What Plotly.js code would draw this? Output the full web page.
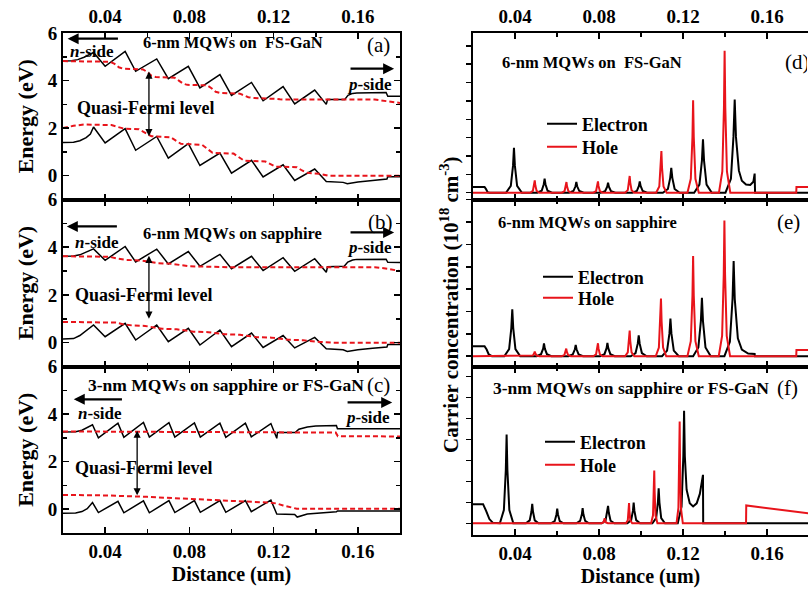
<!DOCTYPE html>
<html>
<head>
<meta charset="utf-8">
<script src="https://cdn.plot.ly/plotly-3.0.1.min.js"></script>
<style>html,body{margin:0;padding:0;background:#fff}#plot{width:808px;height:591px}</style>
</head>
<body>
<div id="plot"></div>
<script>
// ---------- Panel (a): 6-nm MQWs on FS-GaN ----------
const aCBx = [0.02,0.024,0.027,0.030,0.0345,0.040,0.0495,0.0545,0.0645,0.070,0.0795,0.085,0.0945,0.100,0.1095,0.115,0.1245,0.130,0.1395,0.145,0.1456,0.1537,0.1553,0.1575,0.1595,0.1734,0.1742,0.18];
const aCBy = [4.82,4.83,4.88,4.98,5.18,4.6,5.23,4.39,4.91,4.08,4.6,3.69,4.25,3.38,3.92,3.15,3.75,3.02,3.6,3.0,3.2,3.2,3.38,3.46,3.48,3.5,3.34,3.34];
const aVBx = [0.02,0.025,0.028,0.031,0.033,0.0345,0.040,0.0495,0.0545,0.0645,0.070,0.0795,0.085,0.0945,0.100,0.1095,0.115,0.1245,0.130,0.1395,0.145,0.153,0.155,0.160,0.167,0.1738,0.1742,0.18];
const aVBy = [1.4,1.41,1.47,1.6,1.75,2.05,1.38,1.98,1.07,1.65,0.74,1.35,0.43,0.95,0.11,0.65,-0.05,0.46,-0.2,0.28,-0.24,-0.28,-0.34,-0.26,-0.2,-0.14,-0.04,-0.04];
const aFnx = [0.02,0.0425,0.0445,0.0465,0.0485,0.058,0.060,0.062,0.064,0.073,0.075,0.077,0.079,0.0885,0.0905,0.0925,0.0945,0.104,0.106,0.108,0.110,0.119,0.121,0.123,0.125,0.168,0.174,0.18];
const aFny = [4.82,4.79,4.7,4.56,4.5,4.47,4.36,4.2,4.15,4.12,4.0,3.87,3.82,3.8,3.68,3.53,3.48,3.45,3.37,3.3,3.27,3.26,3.23,3.21,3.2,3.2,3.14,3.06];
const aFpx = [0.02,0.025,0.03,0.043,0.046,0.049,0.056,0.059,0.062,0.071,0.0735,0.076,0.086,0.0885,0.091,0.101,0.1035,0.106,0.116,0.1185,0.121,0.131,0.1335,0.136,0.142,0.146,0.18];
const aFpy = [2.0,2.1,2.15,2.13,2.05,1.98,1.95,1.8,1.66,1.62,1.47,1.34,1.3,1.12,0.96,0.93,0.78,0.63,0.6,0.48,0.38,0.36,0.22,0.12,0.08,0.0,0.0];

// ---------- Panel (b): 6-nm MQWs on sapphire ----------
const bCBx = [0.02,0.025,0.028,0.031,0.0345,0.040,0.0495,0.0545,0.0645,0.070,0.0795,0.085,0.0945,0.100,0.1095,0.115,0.1245,0.130,0.1395,0.145,0.1456,0.1535,0.1552,0.1575,0.1595,0.1734,0.1742,0.18];
const bCBy = [3.62,3.63,3.68,3.78,3.93,3.45,4.03,3.38,3.92,3.3,3.82,3.2,3.7,3.1,3.62,3.02,3.56,2.99,3.52,2.95,3.18,3.2,3.38,3.46,3.49,3.5,3.37,3.36];
const bVBx = [0.02,0.025,0.028,0.031,0.0345,0.040,0.0495,0.0545,0.0645,0.070,0.0795,0.085,0.0945,0.100,0.1095,0.115,0.1245,0.130,0.1395,0.145,0.153,0.155,0.160,0.167,0.1738,0.1742,0.18];
const bVBy = [0.15,0.17,0.3,0.5,0.74,0.25,0.81,0.11,0.74,0.04,0.6,-0.1,0.53,-0.17,0.4,-0.2,0.3,-0.22,0.22,-0.26,-0.3,-0.37,-0.3,-0.24,-0.18,-0.08,-0.08];
const bFnx = [0.02,0.042,0.046,0.050,0.057,0.061,0.065,0.072,0.076,0.080,0.09,0.1,0.168,0.174,0.18];
const bFny = [3.62,3.6,3.52,3.47,3.44,3.38,3.33,3.3,3.24,3.2,3.18,3.16,3.16,3.1,3.0];
const bFpx = [0.02,0.045,0.049,0.053,0.059,0.063,0.067,0.074,0.078,0.082,0.089,0.093,0.097,0.104,0.108,0.112,0.119,0.123,0.127,0.134,0.138,0.142,0.148,0.18];
const bFpy = [0.87,0.84,0.76,0.72,0.7,0.63,0.58,0.56,0.5,0.46,0.44,0.39,0.35,0.33,0.27,0.23,0.21,0.16,0.12,0.1,0.06,0.03,0.0,0.0];

// ---------- Panel (c): 3-nm MQWs on sapphire or FS-GaN ----------
const cCBx = [0.02,0.026,0.029,0.0315,0.034,0.0368,0.0461,0.0489,0.0582,0.061,0.0703,0.0731,0.0824,0.0852,0.0945,0.0973,0.1066,0.1094,0.1187,0.1215,0.1218,0.1302,0.132,0.136,0.140,0.1498,0.1503,0.18];
const cCBy = [3.25,3.26,3.32,3.42,3.55,3.0,3.62,3.02,3.65,3.03,3.64,3.03,3.63,3.03,3.62,3.02,3.62,3.04,3.6,2.98,3.22,3.22,3.36,3.46,3.5,3.52,3.38,3.38];
const cVBx = [0.02,0.026,0.029,0.0315,0.034,0.0368,0.0461,0.0489,0.0582,0.061,0.0703,0.0731,0.0824,0.0852,0.0945,0.0973,0.1066,0.1094,0.1187,0.1215,0.130,0.1312,0.136,0.145,0.1498,0.1503,0.18];
const cVBy = [-0.17,-0.16,-0.1,0.02,0.28,-0.14,0.33,-0.15,0.35,-0.15,0.36,-0.14,0.36,-0.13,0.36,-0.13,0.36,-0.1,0.38,-0.2,-0.22,-0.33,-0.2,-0.14,-0.11,-0.07,-0.07];
const cFnx = [0.02,0.08,0.12,0.1495,0.1505,0.18];
const cFny = [3.27,3.25,3.22,3.22,3.07,3.06];
const cFpx = [0.02,0.04,0.06,0.08,0.10,0.118,0.1215,0.1245,0.128,0.131,0.18];
const cFpy = [0.6,0.58,0.52,0.45,0.35,0.28,0.24,0.16,0.07,0.02,0.02];

// ---------- Panel (d): carriers, 6-nm MQWs on FS-GaN ----------
const dElectron = [[0.02,0.31],[0.0255,0.31],[0.0262,0.2],[0.027,0.02],[0.028,0],
 [0.0357,0],[0.0380,0.37],[0.03905,1.46],[0.0395,2.44],[0.03995,1.46],[0.0410,0.37],[0.0433,0],
 [0.0506,0],[0.0527,0.11],[0.0537,0.46],[0.0541,0.76],[0.0545,0.46],[0.0555,0.11],[0.0576,0],
 [0.0657,0],[0.0678,0.09],[0.0688,0.35],[0.0692,0.58],[0.0696,0.35],[0.0706,0.09],[0.0727,0],
 [0.0808,0],[0.0829,0.08],[0.0839,0.33],[0.0843,0.55],[0.0847,0.33],[0.0857,0.08],[0.0878,0],
 [0.0959,0],[0.098,0.09],[0.099,0.37],[0.0994,0.62],[0.0998,0.37],[0.1008,0.09],[0.1029,0],
 [0.1104,0],[0.1128,0.2],[0.1139,0.81],[0.1144,1.35],[0.1149,0.81],[0.116,0.2],[0.1184,0],
 [0.1253,0],[0.1278,0.44],[0.129,1.75],[0.1295,2.91],[0.13,1.75],[0.1312,0.44],[0.1337,0],
 [0.1402,0],[0.1428,0.76],[0.144,3.04],[0.1446,5.07],[0.1452,3.04],[0.1466,1.2],[0.148,0.65],[0.150,0.45],[0.152,0.42],[0.1535,0.6],[0.1541,1.04],[0.1543,0],[0.18,0]];
const dHole = [[0.02,0],
 [0.0472,0],[0.0485,0.1],[0.04914,0.4],[0.0494,0.67],[0.04966,0.4],[0.0503,0.1],[0.0516,0],
 [0.0623,0],[0.0636,0.09],[0.06424,0.35],[0.0645,0.58],[0.06476,0.35],[0.0654,0.09],[0.0667,0],
 [0.0773,0],[0.0786,0.09],[0.07924,0.37],[0.0795,0.62],[0.07976,0.37],[0.0804,0.09],[0.0817,0],
 [0.0924,0],[0.0937,0.14],[0.09434,0.55],[0.0946,0.91],[0.09486,0.55],[0.0955,0.14],[0.0968,0],
 [0.1072,0],[0.1087,0.34],[0.1094,1.36],[0.1097,2.27],[0.11,1.36],[0.1107,0.34],[0.1122,0],
 [0.1221,0],[0.1237,0.76],[0.12448,3.02],[0.1248,5.04],[0.12512,3.02],[0.1259,0.76],[0.1275,0],
 [0.1371,0],[0.1387,1.16],[0.13948,4.64],[0.1398,7.73],[0.14012,4.64],[0.1409,1.16],[0.1425,0],
 [0.1739,0],[0.174,0.31],[0.18,0.31]];

// ---------- Panel (e): carriers, 6-nm MQWs on sapphire ----------
const eElectron = [[0.02,0.45],[0.0255,0.45],[0.0265,0.3],[0.0275,0.08],[0.029,0],
 [0.0349,0],[0.0372,0.32],[0.03824,1.26],[0.0387,2.10],[0.03916,1.26],[0.0402,0.32],[0.0425,0],
 [0.0503,0],[0.0524,0.09],[0.0534,0.34],[0.0538,0.57],[0.0542,0.34],[0.0552,0.09],[0.0573,0],
 [0.0654,0],[0.0675,0.08],[0.0685,0.31],[0.0689,0.51],[0.0693,0.31],[0.0703,0.08],[0.0724,0],
 [0.0805,0],[0.0826,0.09],[0.0836,0.36],[0.084,0.6],[0.0844,0.36],[0.0854,0.09],[0.0875,0],
 [0.0951,0],[0.0974,0.14],[0.09844,0.56],[0.0989,0.93],[0.09936,0.56],[0.1004,0.14],[0.1027,0],
 [0.11,0],[0.1124,0.25],[0.11352,1.01],[0.114,1.68],[0.11448,1.01],[0.1156,0.25],[0.118,0],
 [0.1248,0],[0.1273,0.39],[0.1285,1.57],[0.129,2.61],[0.1295,1.57],[0.1307,0.39],[0.1332,0],
 [0.1397,0],[0.1423,0.64],[0.14357,2.56],[0.1441,4.26],[0.14463,2.56],[0.1461,0.8],[0.148,0.3],[0.151,0.12],[0.1541,0.1],[0.1542,0],[0.18,0]];
const eHole = [[0.02,0],
 [0.0472,0],[0.0485,0.03],[0.04914,0.13],[0.0494,0.21],[0.04966,0.13],[0.0503,0.03],[0.0516,0],
 [0.0622,0],[0.0635,0.05],[0.06414,0.2],[0.0644,0.34],[0.06466,0.2],[0.0653,0.05],[0.0666,0],
 [0.0773,0],[0.0786,0.09],[0.07924,0.35],[0.0795,0.58],[0.07976,0.35],[0.0804,0.09],[0.0817,0],
 [0.0924,0],[0.0937,0.17],[0.09434,0.69],[0.0946,1.15],[0.09486,0.69],[0.0955,0.17],[0.0968,0],
 [0.107,0],[0.1085,0.39],[0.1092,1.55],[0.1095,2.58],[0.1098,1.55],[0.1105,0.39],[0.112,0],
 [0.1221,0],[0.1237,0.67],[0.12448,2.69],[0.1248,4.48],[0.12512,2.69],[0.1259,0.67],[0.1275,0],
 [0.137,0],[0.1386,0.91],[0.13938,3.64],[0.1397,6.07],[0.14002,3.64],[0.1408,0.91],[0.1424,0],
 [0.1739,0],[0.174,0.28],[0.18,0.28]];

// ---------- Panel (f): carriers, 3-nm MQWs ----------
const fElectron = [[0.02,0.91],[0.0248,0.91],[0.0262,0.6],[0.0278,0.2],[0.0295,0.02],[0.031,0],
 [0.0328,0],[0.0347,0.63],[0.03562,2.54],[0.036,4.23],[0.03638,2.54],[0.0373,0.63],[0.0392,0],
 [0.0452,0],[0.047,0.14],[0.04784,0.56],[0.0482,0.93],[0.04856,0.56],[0.0494,0.14],[0.0512,0],
 [0.0571,0],[0.0589,0.1],[0.05974,0.42],[0.0601,0.7],[0.06046,0.42],[0.0613,0.1],[0.0631,0],
 [0.0692,0],[0.071,0.11],[0.07184,0.43],[0.0722,0.72],[0.07256,0.43],[0.0734,0.11],[0.0752,0],
 [0.0813,0],[0.0831,0.12],[0.08394,0.5],[0.0843,0.83],[0.08466,0.5],[0.0855,0.12],[0.0873,0],
 [0.0935,0],[0.0953,0.15],[0.09614,0.59],[0.0965,0.99],[0.09686,0.59],[0.0977,0.15],[0.0995,0],
 [0.1054,0],[0.1072,0.25],[0.10804,1.0],[0.1084,1.67],[0.10876,1.0],[0.1096,0.25],[0.1114,0],
 [0.1175,0],[0.1193,0.8],[0.12014,3.2],[0.1205,5.37],[0.12086,3.2],[0.1217,1.6],[0.1232,0.95],[0.1248,0.8],[0.1265,0.95],[0.128,1.4],[0.1292,2.0],[0.1295,2.31],[0.1296,0],[0.18,0]];
const fHole = [[0.02,0],
 [0.0812,0],[0.0821,0.04],[0.08245,0.14],[0.0827,0.24],[0.08295,0.14],[0.0833,0.04],[0.0842,0],
 [0.0928,0],[0.0937,0.14],[0.09412,0.58],[0.0943,0.96],[0.09448,0.58],[0.0949,0.14],[0.0958,0],
 [0.1048,0],[0.1057,0.38],[0.10612,1.51],[0.1063,2.52],[0.10648,1.51],[0.1069,0.38],[0.1078,0],
 [0.1169,0],[0.1178,0.73],[0.11822,2.92],[0.1184,4.86],[0.11858,2.92],[0.119,0.73],[0.1199,0],
 [0.15,0],[0.1501,0.85],[0.18,0.47]];

const xTickVals = [0.04,0.08,0.12,0.16];
const xTickText = ['0.04','0.08','0.12','0.16'];
const eTickVals = [0,2,4,6];
const eTickText = ['0','2','4','6'];
const panelLetters = ['(a)','(b)','(c)','(d)','(e)','(f)'];
const panelTitles = ['6-nm MQWs on\u00a0 FS-GaN','6-nm MQWs on sapphire','3-nm MQWs on sapphire or FS-GaN'];
const seriesNames = ['Electron','Hole'];

const FONT = 'Liberation Serif';
const RED = '#e8141b';
const px = p => p.map(v => v[0]);
const py = p => p.map(v => v[1]);

const traces = [];
function band(x, y, ax, ay) {
  traces.push({x, y, xaxis: ax, yaxis: ay, mode: 'lines', line: {color: '#000', width: 1.5}, showlegend: false, hoverinfo: 'skip'});
}
function fermi(x, y, ax, ay) {
  traces.push({x, y, xaxis: ax, yaxis: ay, mode: 'lines', line: {color: RED, width: 2, dash: '5px,3px'}, showlegend: false, hoverinfo: 'skip'});
}
band(aCBx, aCBy, 'x', 'y'); band(aVBx, aVBy, 'x', 'y'); fermi(aFnx, aFny, 'x', 'y'); fermi(aFpx, aFpy, 'x', 'y');
band(bCBx, bCBy, 'x2', 'y2'); band(bVBx, bVBy, 'x2', 'y2'); fermi(bFnx, bFny, 'x2', 'y2'); fermi(bFpx, bFpy, 'x2', 'y2');
band(cCBx, cCBy, 'x3', 'y3'); band(cVBx, cVBy, 'x3', 'y3'); fermi(cFnx, cFny, 'x3', 'y3'); fermi(cFpx, cFpy, 'x3', 'y3');

function carriers(el, ho, ax, ay, legE, legH) {
  traces.push({x: px(el), y: py(el), xaxis: ax, yaxis: ay, mode: 'lines', name: seriesNames[0], legend: legE, line: {color: '#000', width: 2}, hoverinfo: 'skip'});
  traces.push({x: px(ho), y: py(ho), xaxis: ax, yaxis: ay, mode: 'lines', name: seriesNames[1], legend: legH, line: {color: RED, width: 2}, hoverinfo: 'skip'});
}
carriers(dElectron, dHole, 'x4', 'y4', 'legend', 'legend2');
carriers(eElectron, eHole, 'x5', 'y5', 'legend3', 'legend4');
carriers(fElectron, fHole, 'x6', 'y6', 'legend5', 'legend6');

const W = 808, H = 591;
const LX = [63/W, 400/W];
const RX = [473/W, 1];
const rowA = [1-199.5/H, 1-33/H];
const rowB = [1-366.5/H, 1-199.5/H];
const rowC = [1-533/H, 1-366.5/H];
const rowF = [1-535/H, 1-366.5/H];

const tickFont = {family: FONT, size: 19, color: '#000', weight: 'bold'};
const xTitleFont = {family: FONT, size: 20, color: '#000', weight: 'bold'};
const yTitleFont = {family: FONT, size: 22, color: '#000', weight: 'bold'};

function xAxis(domain, anchor, opts) {
  return Object.assign({
    domain, anchor, range: [0.02, 0.18], showline: true, linewidth: 2, linecolor: '#000', mirror: 'ticks',
    ticks: 'inside', ticklen: 6, tickwidth: 1.5, tickcolor: '#000', tickvals: xTickVals, ticktext: xTickText,
    minor: {tickvals: [0.02,0.06,0.10,0.14,0.18], ticks: 'inside', ticklen: 4, tickwidth: 1.5, tickcolor: '#000'},
    showgrid: false, zeroline: false, showticklabels: false, tickfont: tickFont
  }, opts || {});
}
function yLeft(domain, anchor) {
  return {
    domain, anchor, range: [-1, 6], showline: true, linewidth: 2, linecolor: '#000', mirror: 'ticks',
    ticks: 'inside', ticklen: 6, tickwidth: 1.5, tickcolor: '#000', tickvals: eTickVals, ticktext: eTickText,
    minor: {tickvals: [-1,1,3,5], ticks: 'inside', ticklen: 4, tickwidth: 1.5, tickcolor: '#000'},
    showgrid: false, zeroline: false, tickfont: tickFont,
    title: {text: 'Energy (eV)', font: yTitleFont, standoff: 8}
  };
}
function yRight(domain, anchor, range) {
  return {
    domain, anchor, range, showline: true, linewidth: 2, linecolor: '#000', mirror: 'ticks',
    ticks: 'outside', ticklen: 5, tickwidth: 1.5, tickcolor: '#000', dtick: 1, tick0: 0,
    showgrid: false, zeroline: false, showticklabels: false
  };
}

const ann = [];
// text placed by its left edge and vertical centre, in page pixels; fixed-width left-aligned box
function txt(left, cy, text, size, bold, boxW) {
  ann.push({x: left / W, y: 1 - cy / H, xref: 'paper', yref: 'paper', text: bold ? '<b>' + text + '</b>' : text,
    showarrow: false, font: {family: FONT, size, color: '#000'}, xanchor: 'left', yanchor: 'middle',
    align: 'left', width: boxW, borderpad: 0, borderwidth: 0});
}
function arrow(x, y, ax, ay, xr, yr, w, both) {
  ann.push({x, y, ax, ay, xref: xr, yref: yr, axref: xr, ayref: yr, text: '', showarrow: true,
    arrowhead: 2, arrowsize: both ? 1.1 : 1, arrowwidth: w, arrowcolor: '#000', arrowside: both ? 'end+start' : 'end',
    standoff: 0, startstandoff: 0});
}
// panel (a)
txt(143, 43, panelTitles[0], 16.5, true, 215);
txt(367, 45, panelLetters[0], 21, false, 36);
txt(70, 51, '<i>n</i>-side', 17, true, 62);
arrow(0.0222, 5.76, 0.0468, 5.76, 'x', 'y', 2.2, false);
txt(347, 85, '<i>p</i>-side', 17, true, 62);
arrow(0.1772, 4.5, 0.1558, 4.5, 'x', 'y', 2.2, false);
txt(77, 108, 'Quasi-Fermi level', 18, true, 170);
arrow(0.0608, 4.38, 0.0608, 1.6, 'x', 'y', 1.3, true);
// panel (b)
txt(143, 233, panelTitles[1], 16.5, true, 215);
txt(368, 222, panelLetters[1], 21, false, 36);
txt(75, 242, '<i>n</i>-side', 17, true, 62);
arrow(0.0218, 4.87, 0.0463, 4.87, 'x2', 'y2', 2.2, false);
txt(347, 247, '<i>p</i>-side', 17, true, 62);
arrow(0.1772, 4.62, 0.1558, 4.62, 'x2', 'y2', 2.2, false);
txt(75, 295, 'Quasi-Fermi level', 18, true, 170);
arrow(0.0608, 3.64, 0.0608, 0.94, 'x2', 'y2', 1.3, true);
// panel (c)
txt(88, 385, panelTitles[2], 17.5, true, 290);
txt(367, 385, panelLetters[2], 21, false, 36);
txt(78, 413, '<i>n</i>-side', 17, true, 62);
arrow(0.0251, 4.62, 0.0487, 4.62, 'x3', 'y3', 2.2, false);
txt(345, 417, '<i>p</i>-side', 17, true, 62);
arrow(0.1763, 4.49, 0.1544, 4.49, 'x3', 'y3', 2.2, false);
txt(75, 468, 'Quasi-Fermi level', 18, true, 170);
arrow(0.0552, 3.3, 0.0552, 0.52, 'x3', 'y3', 1.3, true);
// right panels
txt(502, 63, panelTitles[0], 16.5, true, 215);
txt(785, 62, panelLetters[3], 21, false, 22);
txt(498, 222, panelTitles[1], 16.5, true, 215);
txt(777, 222, panelLetters[4], 21, false, 30);
txt(493, 388, panelTitles[2], 17.5, true, 282);
txt(777, 388, panelLetters[5], 21, false, 30);
ann.push({x: 449/W, y: 1-305/H, xref: 'paper', yref: 'paper', text: '<b>Carrier concentration (10<sup>18</sup> cm<sup>-3</sup>)</b>',
  textangle: -90, showarrow: false, font: {family: FONT, size: 21, color: '#000'}});

const legFont = {family: FONT, size: 18, color: '#000', weight: 'bold'};
function leg(textLeft, cy) {
  return {x: (textLeft - 40) / W, y: 1 - cy / H, xref: 'paper', yref: 'paper', xanchor: 'left', yanchor: 'middle', font: legFont,
    bgcolor: 'rgba(0,0,0,0)', borderwidth: 0, tracegroupgap: 0, itemwidth: 30};
}

const layout = {
  width: W, height: H, margin: {l: 0, r: 0, t: 0, b: 0}, paper_bgcolor: '#fff', plot_bgcolor: '#fff',
  font: {family: FONT, color: '#000'},
  xaxis: xAxis(LX, 'y', {side: 'top', showticklabels: true}),
  xaxis2: xAxis(LX, 'y2'),
  xaxis3: xAxis(LX, 'y3', {showticklabels: true, title: {text: 'Distance (um)', font: xTitleFont, standoff: 6}}),
  xaxis4: xAxis(RX, 'y4', {side: 'top', showticklabels: true, range: [0.02, 0.1795]}),
  xaxis5: xAxis(RX, 'y5', {range: [0.02, 0.1795]}),
  xaxis6: xAxis(RX, 'y6', {showticklabels: true, range: [0.02, 0.1795], title: {text: 'Distance (um)', font: xTitleFont, standoff: 6}}),
  yaxis: yLeft(rowA, 'x'),
  yaxis2: yLeft(rowB, 'x2'),
  yaxis3: yLeft(rowC, 'x3'),
  yaxis4: yRight(rowA, 'x4', [-0.37, 8.7]),
  yaxis5: yRight(rowB, 'x5', [-0.46, 7.01]),
  yaxis6: yRight(rowF, 'x6', [-0.56, 7.48]),
  legend: leg(582, 124),
  legend2: leg(582, 147),
  legend3: leg(578, 277),
  legend4: leg(578, 298),
  legend5: leg(580, 442),
  legend6: leg(580, 465),
  annotations: ann,
  showlegend: true
};

Plotly.newPlot('plot', traces, layout, {displayModeBar: false, staticPlot: true});
</script>
</body>
</html>
